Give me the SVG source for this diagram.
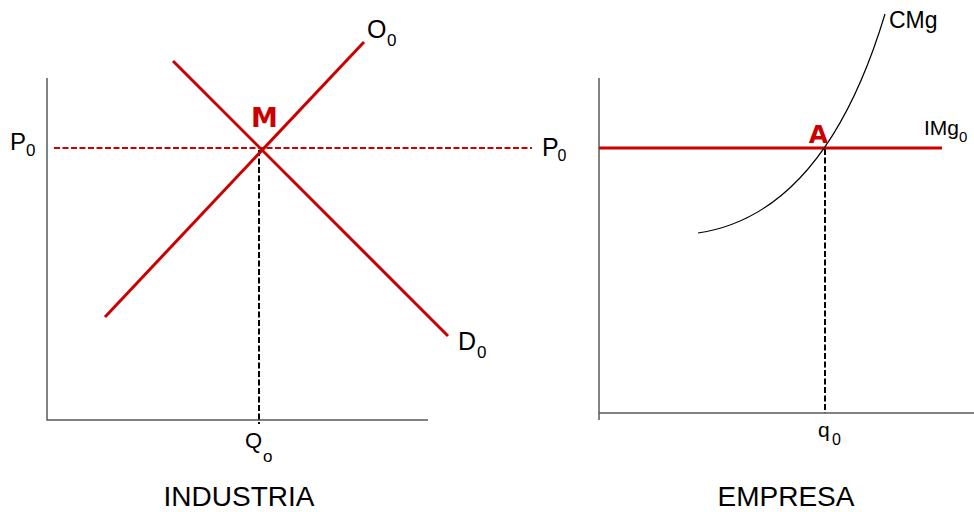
<svg xmlns="http://www.w3.org/2000/svg" width="974" height="512" viewBox="0 0 974 512">
<style>
.axis{stroke:#5a5a5a;stroke-width:1.5;fill:none}
.red{stroke:#cc0000;stroke-width:3;fill:none;stroke-linecap:butt}
.reddash{stroke:#cc0000;stroke-width:2;fill:none;stroke-dasharray:6 2.5}
.blackdash{stroke:#000;stroke-width:2;fill:none;stroke-dasharray:6 2.5}
.curve{stroke:#000;stroke-width:1.2;fill:none}
.lbl{font-family:"Liberation Sans",Arial,sans-serif;fill:#000}
.pt{font-family:"DejaVu Sans",Verdana,sans-serif;font-weight:bold;fill:#cc0000;text-anchor:middle}
.title{font-family:"Liberation Sans",Arial,sans-serif;font-size:28px;fill:#000;text-anchor:middle}
</style>
<rect width="974" height="512" fill="#fff"/>
<g id="industria">
  <g id="industria-axes">
    <path class="axis" d="M47,78 V420 H428"/>
  </g>
  <g id="connectors">
    <line class="reddash" x1="54" y1="148" x2="532" y2="148"/>
    <line class="blackdash" x1="259" y1="150" x2="259" y2="424"/>
    <line class="blackdash" x1="825" y1="149" x2="825" y2="413"/>
  </g>
  <g id="oferta">
    <line class="red" x1="105" y1="317" x2="364" y2="42"/>
    <text class="lbl" x="367" y="38" font-size="25">O<tspan x="387" y="46" font-size="17">0</tspan></text>
  </g>
  <g id="demanda">
    <line class="red" x1="173" y1="61" x2="448" y2="336"/>
    <text class="lbl" x="458" y="350" font-size="25">D<tspan x="477" y="358" font-size="17">0</tspan></text>
  </g>
  <g id="punto-M">
    <text class="pt" x="264.5" y="127" font-size="27">M</text>
  </g>
  <g id="p0-left">
    <text class="lbl" x="10" y="150" font-size="24">P<tspan x="26" y="156" font-size="17">0</tspan></text>
  </g>
  <g id="p0-right">
    <text class="lbl" x="542" y="156" font-size="25">P<tspan x="557.5" y="161" font-size="16">0</tspan></text>
  </g>
  <g id="Qo">
    <text class="lbl" x="245" y="448" font-size="22">Q<tspan x="263" y="462" font-size="17">o</tspan></text>
  </g>
  <text class="title" x="239" y="506">INDUSTRIA</text>
</g>
<g id="empresa">
  <g id="empresa-axes">
    <path class="axis" d="M599,78 V420 M599,413 H974"/>
  </g>
  <g id="IMg">
    <line class="red" x1="599" y1="148" x2="942" y2="148"/>
    <text class="lbl" x="924" y="135" font-size="21">IMg<tspan x="959" y="142" font-size="15">0</tspan></text>
  </g>
  <g id="CMg">
    <path class="curve" d="M698,233 C793,219 850.5,128.5 885,14"/>
    <text class="lbl" x="889" y="28" font-size="23">CMg</text>
  </g>
  <g id="punto-A">
    <text class="pt" x="818.5" y="143" font-size="25">A</text>
  </g>
  <g id="q0">
    <text class="lbl" x="818" y="437" font-size="21">q<tspan x="832" y="445" font-size="16">0</tspan></text>
  </g>
  <text class="title" x="786" y="506">EMPRESA</text>
</g>
</svg>
